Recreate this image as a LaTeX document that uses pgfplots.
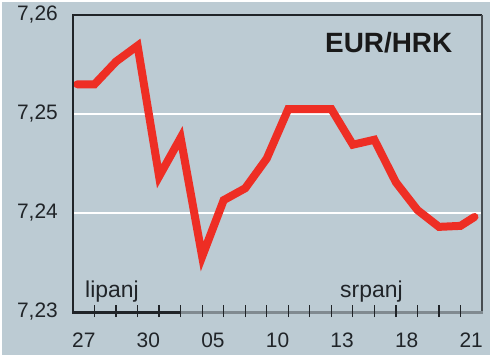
\documentclass[border=0pt]{standalone}
\usepackage{fontspec}
\setmainfont{Liberation Sans}
\usepackage{pgfplots}
\pgfplotsset{compat=1.18}
\definecolor{bg}{RGB}{188,203,211}
\definecolor{eur}{RGB}{238,46,36}
\definecolor{axdark}{RGB}{32,36,40}
\definecolor{axgrey}{RGB}{128,138,144}
\definecolor{axright}{RGB}{70,76,80}
\pgfplotstableread{
x y
0.2 7.2530
1 7.2530
2 7.2553
3 7.2569
4 7.2437
5 7.2476
6 7.2356
7 7.2413
8 7.2425
9 7.2455
10 7.2505
11 7.2505
12 7.2505
13 7.2469
14 7.2474
15 7.2431
16 7.2403
17 7.2386
18 7.2387
18.65 7.2396
}\eurhrk
\begin{document}
\begin{tikzpicture}[x=1bp,y=1bp]
\fill[white] (-73,-45) rectangle (419,312);
\fill[bg] (-71,-43) rectangle (417,310);
\begin{axis}[at={(0,0)}, anchor=south west, scale only axis,
  width=409bp, height=297bp,
  xmin=0, xmax=19, ymin=7.23, ymax=7.26,
  axis line style={draw=none},
  xtick={0.5,3.5,6.5,9.5,12.5,15.5,18.5},
  xticklabels={27,30,05,10,13,18,21},
  xtick style={draw=none},
  ytick={7.23,7.24,7.25,7.26},
  ytick style={draw=none},
  ymajorgrids, grid style={white, line width=1.2bp},
  /pgf/number format/assume math mode=true,
  /pgf/number format/use comma, /pgf/number format/fixed,
  /pgf/number format/fixed zerofill, /pgf/number format/precision=2,
  ticklabel style={font=\fontsize{21}{21}\selectfont, text=axdark},
  yticklabel style={anchor=east, inner sep=0pt, xshift=-15bp},
  xticklabel style={anchor=north, inner sep=0pt, yshift=-21bp},
]
\addplot[eur, line width=8bp, line cap=round, line join=miter] table[x=x,y=y] {\eurhrk};
\end{axis}
\draw[axdark, line width=1.3bp] (0,0) -- (0,297) -- (409,297);
\draw[axright, line width=1.3bp] (409,297) -- (409,0);
\draw[axgrey, line width=3bp] (107.6,0) -- (409.6,0);
\draw[axdark, line width=3bp] (-0.6,0) -- (107.6,0);
\foreach \i in {1,...,18} \draw[axdark, line width=1.3bp] ({\i*409/19},-5) -- ({\i*409/19},7);
\node[anchor=base west, inner sep=0pt, text=axdark, font=\fontsize{23}{23}\selectfont] at (12,15) {lipanj};
\node[anchor=base west, inner sep=0pt, text=axdark, font=\fontsize{23}{23}\selectfont] at (267,15) {srpanj};
\node[anchor=base west, inner sep=0pt, text=black!90, font=\fontsize{28}{28}\selectfont\bfseries] at (252,260) {EUR/HRK};
\end{tikzpicture}
\end{document}
